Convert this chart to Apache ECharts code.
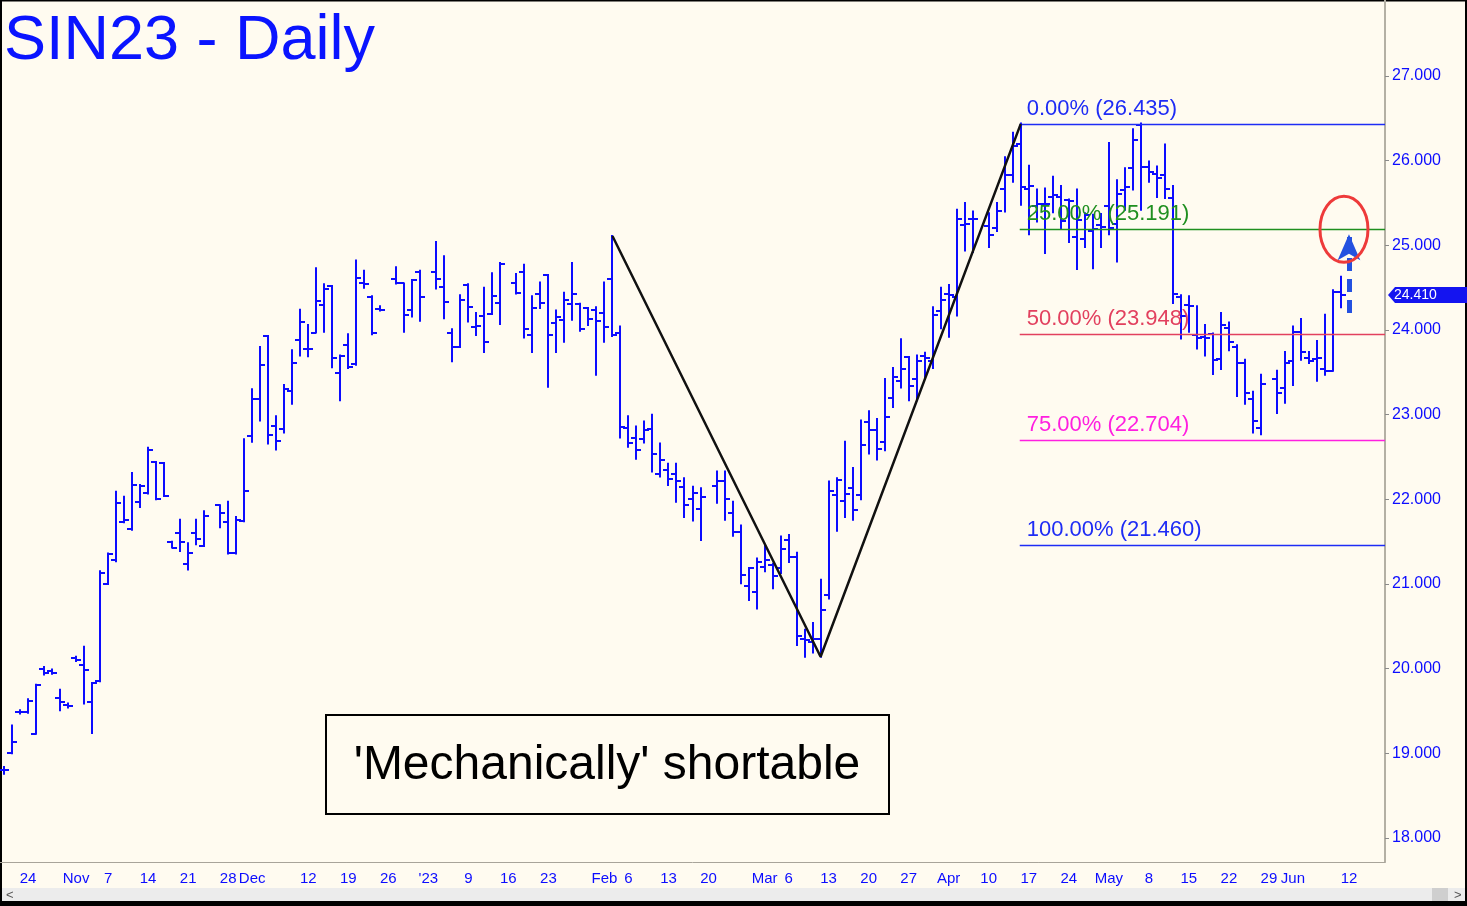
<!DOCTYPE html>
<html><head><meta charset="utf-8">
<script src="https://cdn.jsdelivr.net/npm/echarts@6/dist/echarts.min.js"></script>
<style>html,body{margin:0;padding:0;background:#fffbf0;}#c{width:1467px;height:906px;}</style>
</head><body><div id="c"></div>
<script>
// ---- categories: every weekday from 2022-10-19 to 2023-06-16 (holidays kept as empty slots)
const firstDay = '2022-10-19', lastDay = '2023-06-16';
const dates = [];
for (let d = new Date(firstDay + 'T00:00:00Z'); d <= new Date(lastDay + 'T00:00:00Z'); d.setUTCDate(d.getUTCDate() + 1)) {
  const w = d.getUTCDay();
  if (w !== 0 && w !== 6) dates.push(d.toISOString().slice(0, 10));
}
// ---- OHLC values, one row per week (null = no trading / future slot)
const open = [
  18.80, 19.00, 19.49,
  19.49, 19.23, 20.00, 19.97, 19.65,
  19.57, 20.13, 20.04, 19.61, 19.85,
  21.00, 21.28, 21.73, 21.65, 21.97,
  22.07, 22.44, 22.43, 21.50, 21.60,
  21.24, 21.60, 21.45, null, 21.93,
  21.73, 21.37, 21.74, 22.75, 23.19,
  23.93, 22.87, 22.83, 23.28, 23.88,
  23.78, 23.97, 24.30, 24.52, 23.49,
  23.82, 23.60, 24.56, 24.39, 24.25,
  null, 24.60, 24.55, 24.24, 24.69,
  null, 24.69, 24.51, 23.96, 23.80,
  24.53, 24.04, 24.17, 24.19, 24.32,
  null, 24.56, 24.68, 23.94, 24.43,
  24.65, 24.08, 24.12, 24.31, 24.31,
  24.26, 24.24, 24.20, 24.60, 23.96,
  22.84, 22.72, 22.71, 22.83, 22.30,
  22.35, 22.30, 22.14, 22.00, 21.88,
  null, 22.16, 22.22, 21.84, 21.62,
  20.98, 20.91, 21.20, 21.22, 21.19,
  21.52, 21.32, 20.35, 20.32, 20.35,
  20.87, 22.05, 21.98, 22.13, 22.05,
  22.91, 22.82, 22.68, 23.20, 23.40,
  23.68, 23.42, 23.69, 23.63, 24.23,
  24.43, 24.39, 25.24, 25.31, null,
  25.23, 25.20, 25.66, 25.83, 26.20,
  25.67, 25.46, 25.49, 25.57, 25.57,
  25.54, 25.10, 25.07, 25.17, 25.24,
  25.46, 25.25, 25.65, 25.91, 26.42,
  25.92, 25.84, 25.83, 25.56, 24.39,
  24.30, 23.94, 23.92, 23.95, 23.66,
  24.02, 23.80, 23.61, 23.19, 22.84,
  null, 23.42, 23.31, 23.63, 23.98,
  23.67, 23.66, 23.54, 23.52, 24.45,
  null, null, null, null, null
];
const high = [
  18.84, 19.33, 19.51,
  19.64, 19.81, 20.02, 19.99, 19.75,
  19.59, 20.14, 20.26, 19.83, 21.15,
  21.36, 22.09, 22.03, 22.31, 22.17,
  22.61, 22.44, 22.43, 21.50, 21.76,
  21.48, 21.76, 21.86, null, 21.93,
  21.97, 21.79, 22.71, 23.30, 23.80,
  23.93, 22.98, 23.35, 23.76, 24.24,
  24.06, 24.73, 24.54, 24.52, 23.70,
  23.95, 24.82, 24.70, 24.40, 24.28,
  null, 24.74, 24.55, 24.59, 24.70,
  null, 25.04, 24.87, 24.01, 24.41,
  24.54, 24.20, 24.50, 24.67, 24.79,
  null, 24.66, 24.77, 24.40, 24.56,
  24.65, 24.23, 24.44, 24.79, 24.31,
  24.26, 24.27, 24.56, 25.11, 24.04,
  22.98, 22.86, 22.92, 23.00, 22.66,
  22.42, 22.42, 22.25, 22.15, 22.13,
  null, 22.33, 22.33, 21.97, 21.69,
  21.19, 21.30, 21.46, 21.24, 21.56,
  21.58, 21.37, 20.46, 20.54, 21.05,
  22.21, 22.25, 22.68, 22.37, 22.93,
  23.04, 22.95, 23.42, 23.55, 23.89,
  23.68, 23.70, 23.73, 24.27, 24.50,
  24.53, 25.42, 25.50, 25.40, null,
  25.38, 25.50, 26.04, 26.33, 26.44,
  25.94, 25.66, 25.67, 25.81, 25.70,
  25.54, 25.66, 25.38, 25.36, 25.37,
  26.21, 25.77, 25.91, 26.37, 26.44,
  25.99, 25.93, 26.19, 25.70, 24.41,
  24.40, 24.28, 24.06, 23.96, 24.20,
  24.09, 23.82, 23.65, 23.27, 23.47,
  null, 23.52, 23.74, 24.04, 24.13,
  23.74, 23.87, 24.18, 24.47, 24.63,
  null, null, null, null, null
];
const low = [
  18.76, 19.00, 19.47,
  19.48, 19.23, 19.93, 19.94, 19.51,
  19.54, 20.09, 19.59, 19.24, 19.85,
  21.00, 21.27, 21.73, 21.64, 21.91,
  22.07, 22.00, 22.04, 21.43, 21.39,
  21.17, 21.47, 21.45, null, 21.67,
  21.36, 21.36, 21.74, 22.68, 22.93,
  22.66, 22.59, 22.79, 23.13, 23.70,
  23.69, 23.97, 23.98, 23.56, 23.17,
  23.55, 23.59, 24.50, 23.95, 24.23,
  null, 24.55, 23.98, 24.16, 24.11,
  null, 24.49, 24.14, 23.63, 23.80,
  24.10, 23.94, 23.74, 24.19, 24.07,
  null, 24.43, 23.91, 23.74, 24.26,
  23.33, 23.74, 23.86, 24.12, 23.99,
  24.06, 23.47, 23.86, 23.93, 22.73,
  22.62, 22.48, 22.67, 22.33, 22.27,
  22.17, 21.97, 21.79, 21.75, 21.52,
  null, 21.96, 21.76, 21.57, 21.01,
  20.81, 20.71, 21.15, 20.95, 21.13,
  21.26, 20.28, 20.14, 20.19, 20.14,
  20.83, 21.63, 21.79, 21.76, 22.00,
  22.54, 22.47, 22.58, 23.09, 23.32,
  23.17, 23.17, 23.42, 23.55, 24.02,
  23.92, 24.17, 24.94, 24.92, null,
  24.98, 25.17, 25.40, 25.75, 25.48,
  25.13, 25.28, 24.91, 25.39, 25.20,
  25.04, 24.72, 24.98, 24.73, 24.98,
  25.13, 24.81, 25.42, 25.66, 25.42,
  25.75, 25.57, 25.56, 24.32, 23.90,
  23.98, 23.78, 23.70, 23.48, 23.54,
  23.76, 23.22, 23.13, 22.79, 22.77,
  null, 23.02, 23.14, 23.35, 23.65,
  23.61, 23.40, 23.47, 23.52, 24.27,
  null, null, null, null, null
];
const close = [
  18.80, 19.13, 19.49,
  19.62, 19.81, 19.95, 19.95, 19.61,
  19.56, 20.10, 19.99, 19.83, 21.13,
  21.35, 21.96, 21.76, 22.17, 22.16,
  22.58, 22.00, 22.04, 21.43, 21.50,
  21.37, 21.53, 21.80, null, 21.84,
  21.37, 21.76, 22.10, 23.18, 23.59,
  22.76, 22.69, 23.30, 23.61, 24.09,
  23.78, 24.34, 24.48, 23.67, 23.69,
  23.56, 24.61, 24.54, 23.96, 24.24,
  null, 24.56, 24.18, 24.59, 24.39,
  null, 24.60, 24.33, 23.80, 24.35,
  24.27, 24.05, 23.86, 24.40, 24.78,
  null, 24.44, 24.01, 24.26, 24.32,
  23.94, 24.15, 24.35, 24.43, 24.01,
  24.13, 24.11, 24.03, 23.94, 22.85,
  22.66, 22.58, 22.82, 22.54, 22.47,
  22.24, 22.22, 21.93, 22.07, 22.03,
  null, 22.22, 22.00, 21.62, 21.11,
  21.19, 21.26, 21.28, 21.09, 21.41,
  21.32, 20.38, 20.34, 20.35, 20.69,
  22.10, 22.23, 22.06, 21.87, 22.64,
  22.82, 22.60, 22.97, 23.44, 23.54,
  23.34, 23.63, 23.67, 24.18, 24.35,
  24.41, 25.31, 25.25, 25.31, null,
  25.12, 25.40, 25.83, 26.17, 25.69,
  25.70, 25.49, 25.49, 25.59, 25.29,
  25.52, 25.30, 25.36, 25.19, 25.22,
  25.20, 25.61, 25.69, 26.24, 25.93,
  25.87, 25.79, 25.66, 24.43, 24.17,
  24.28, 23.90, 23.90, 23.65, 24.06,
  23.86, 23.61, 23.25, 22.92, 23.36,
  null, 23.25, 23.61, 23.98, 23.74,
  23.63, 23.67, 23.52, 24.45, 24.41,
  null, null, null, null, null
];
// ---- x-axis labels
const tickDates = ['2022-10-24','2022-11-01','2022-11-07','2022-11-14','2022-11-21','2022-11-28','2022-12-01','2022-12-12','2022-12-19','2022-12-26','2023-01-02','2023-01-09','2023-01-16','2023-01-23','2023-02-01','2023-02-06','2023-02-13','2023-02-20','2023-03-01','2023-03-06','2023-03-13','2023-03-20','2023-03-27','2023-04-03','2023-04-10','2023-04-17','2023-04-24','2023-05-01','2023-05-08','2023-05-15','2023-05-22','2023-05-29','2023-06-01','2023-06-12'];
const tickLabels = ['24','Nov','7','14','21','28','Dec','12','19','26',"'23",'9','16','23','Feb','6','13','20','Mar','6','13','20','27','Apr','10','17','24','May','8','15','22','29','Jun','12'];
// ---- Fibonacci retracement
const fibStart = '2023-04-14';
const fibLevels = [26.435, 25.191, 23.948, 22.704, 21.460];
const fibLabels = ['0.00% (26.435)', '25.00% (25.191)', '50.00% (23.948)', '75.00% (22.704)', '100.00% (21.460)'];
const fibColors = ['#1e2cf5', '#1f8f1f', '#e2405e', '#ff1fe0', '#1e2cf5'];
// ---- swing lines
const swingDates = ['2023-02-02', '2023-03-10', '2023-04-14'];
const swingValues = [25.11, 20.14, 26.435];
// ---- annotations
const arrowDate = '2023-06-12';
const arrowFrom = 24.20, arrowTo = 25.13;
const circleDate = '2023-06-12', circleValue = 25.19;
const lastPrice = 24.410;
const yMin = 17.7165, yMax = 27.8976;

const labelMap = {};
tickDates.forEach((d, j) => labelMap[d] = tickLabels[j]);
const isTick = (idx, v) => (labelMap[v] !== undefined) || new Date(v + 'T00:00:00Z').getUTCDay() === 1;

const ohlc = [];
dates.forEach((d, i) => { if (open[i] != null) ohlc.push([i, open[i], high[i], low[i], close[i]]); });

const BLUE = '#0c0cff';
const chart = echarts.init(document.getElementById('c'));
chart.setOption({
  backgroundColor: '#fffbf0',
  animation: false,
  grid: { left: 0, top: 0, width: 1385, height: 862 },
  xAxis: {
    type: 'category', data: dates, boundaryGap: true,
    axisLine: { lineStyle: { color: '#a8a49a', width: 1 } },
    axisTick: { interval: isTick, alignWithLabel: true, length: 5, lineStyle: { color: '#8a8a8a' } },
    axisLabel: { interval: (idx, v) => labelMap[v] !== undefined, formatter: v => labelMap[v] || '',
      color: BLUE, fontSize: 15, fontFamily: 'Liberation Sans, Arial, sans-serif', margin: 9 },
    splitLine: { show: false }
  },
  yAxis: {
    type: 'value', position: 'right', min: yMin, max: yMax, splitNumber: 10, minInterval: 1, maxInterval: 1,
    axisLine: { show: true, lineStyle: { color: '#b4b0a4', width: 2 } },
    axisTick: { show: true, length: 4, lineStyle: { color: '#8a8a8a' } },
    axisLabel: { showMinLabel: false, showMaxLabel: false, formatter: v => v.toFixed(3),
      color: BLUE, fontSize: 16, fontFamily: 'Liberation Sans, Arial, sans-serif', margin: 7 },
    splitLine: { show: false }
  },
  series: [
    {
      type: 'custom', name: 'ohlc', data: ohlc, encode: { x: 0, y: [1, 2, 3, 4] }, z: 2,
      renderItem: function (params, api) {
        const i = api.value(0);
        const pH = api.coord([i, api.value(2)]), pL = api.coord([i, api.value(3)]);
        const pO = api.coord([i, api.value(1)]), pC = api.coord([i, api.value(4)]);
        const x = Math.round(pH[0]);
        const st = { stroke: BLUE, lineWidth: 2, fill: null };
        return { type: 'group', children: [
          { type: 'line', shape: { x1: x, y1: pH[1] - 1, x2: x, y2: pL[1] + 1 }, style: st },
          { type: 'line', shape: { x1: x - 5, y1: Math.round(pO[1]), x2: x, y2: Math.round(pO[1]) }, style: st },
          { type: 'line', shape: { x1: x, y1: Math.round(pC[1]), x2: x + 5, y2: Math.round(pC[1]) }, style: st }
        ] };
      }
    },
    {
      type: 'custom', name: 'fib', z: 5,
      data: fibLevels.map((v, j) => [dates.indexOf(fibStart), v, j]),
      encode: { x: 0, y: 1 },
      renderItem: function (params, api) {
        const j = api.value(2);
        const p = api.coord([api.value(0), api.value(1)]);
        const right = params.coordSys.x + params.coordSys.width;
        const y = Math.round(p[1]) + 0.5;
        return { type: 'group', children: [
          { type: 'line', shape: { x1: p[0] - 1, y1: y, x2: right, y2: y }, style: { stroke: fibColors[j], lineWidth: 1.5 } },
          { type: 'text', x: p[0] + 6, y: y - 16, style: { text: fibLabels[j], fill: fibColors[j],
            font: '22px "Liberation Sans", Arial, sans-serif', align: 'left', verticalAlign: 'middle' } }
        ] };
      }
    },
    {
      type: 'line', name: 'swing', z: 6, symbol: 'none',
      data: swingDates.map((d, j) => [d, swingValues[j]]),
      lineStyle: { color: '#111111', width: 2.5 },
      markLine: {
        silent: true, symbol: ['none', 'arrow'], symbolSize: [17, 26],
        label: { show: false },
        lineStyle: { color: '#2451e0', width: 5, type: [13, 8] },
        emphasis: { disabled: true },
        data: [[{ coord: [arrowDate, arrowFrom] }, { coord: [arrowDate, arrowTo] }]]
      }
    },
    {
      type: 'custom', name: 'circle', z: 7,
      data: [[dates.indexOf(circleDate), circleValue]], encode: { x: 0, y: 1 },
      renderItem: function (params, api) {
        const p = api.coord([api.value(0), api.value(1)]);
        return { type: 'ellipse', shape: { cx: p[0] - 5, cy: p[1], rx: 24, ry: 33 },
          style: { stroke: '#ee3a3a', lineWidth: 3, fill: null } };
      }
    },
    {
      type: 'custom', name: 'lastTag', z: 8,
      data: [[dates.length - 1, lastPrice]], encode: { x: 0, y: 1 },
      renderItem: function (params, api) {
        const p = api.coord([api.value(0), api.value(1)]);
        const x = params.coordSys.x + params.coordSys.width + 3;
        const y = Math.round(p[1]);
        return { type: 'group', children: [
          { type: 'polygon', shape: { points: [[x, y], [x + 7, y - 8], [x + 82, y - 8], [x + 82, y + 8], [x + 7, y + 8]] },
            style: { fill: '#1414f0' } },
          { type: 'text', x: x + 6, y: y, style: { text: lastPrice.toFixed(3), fill: '#ffffff',
            font: '14px "Liberation Sans", Arial, sans-serif', align: 'left', verticalAlign: 'middle' } }
        ] };
      }
    }
  ],
  graphic: [
    { type: 'text', left: 4, top: 10, style: { text: 'SIN23 - Daily', fill: '#0a14ff', font: '63px "Liberation Sans", Arial, sans-serif' } },
    { type: 'rect', shape: { x: 326, y: 715, width: 563, height: 99 }, style: { fill: null, stroke: '#000', lineWidth: 2 } },
    { type: 'text', x: 607, y: 766, style: { text: "'Mechanically' shortable", fill: '#000', font: '48px "Liberation Sans", Arial, sans-serif', align: 'center', verticalAlign: 'middle' } },
    { type: 'rect', shape: { x: 0, y: 888, width: 1467, height: 13 }, style: { fill: '#ececec' } },
    { type: 'rect', shape: { x: 1432, y: 888, width: 16, height: 13 }, style: { fill: '#cfcfcf' } },
    { type: 'text', x: 6, y: 895, style: { text: '<', fill: '#555', font: '13px "Liberation Sans", Arial, sans-serif', verticalAlign: 'middle' } },
    { type: 'text', x: 1454, y: 895, style: { text: '>', fill: '#555', font: '13px "Liberation Sans", Arial, sans-serif', verticalAlign: 'middle' } },
    { type: 'rect', shape: { x: 0, y: 901, width: 1467, height: 5 }, style: { fill: '#000' } },
    { type: 'rect', shape: { x: 0, y: 0, width: 2, height: 906 }, style: { fill: '#000' } },
    { type: 'rect', shape: { x: 0, y: 0, width: 1467, height: 1.5 }, style: { fill: '#000' } },
    { type: 'rect', shape: { x: 1465, y: 0, width: 2, height: 906 }, style: { fill: '#000' } }
  ]
});
</script></body></html>
